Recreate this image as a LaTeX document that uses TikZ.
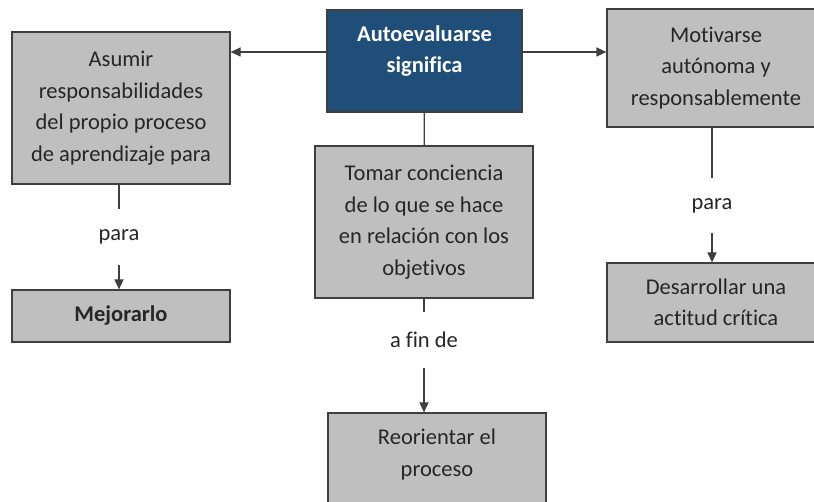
\documentclass[tikz,border=0pt]{standalone}
\usepackage{fontspec}
\setmainfont{Carlito}[Ligatures=NoCommon]
\usepackage{xcolor}
\usepackage{tikz}
\usetikzlibrary{arrows.meta,calc}

\definecolor{boxgray}{HTML}{BFBFBF}
\definecolor{boxline}{HTML}{3F3F3F}
\definecolor{navy}{HTML}{1F4E79}
\definecolor{inkgray}{HTML}{262626}

\begin{document}
\begin{tikzpicture}[x=1pt,y=-1pt,
  every node/.style={font=\fontsize{22.5}{31.5}\selectfont,text=inkgray},
  box/.style={draw=boxline,fill=boxgray,line width=1.2pt,rectangle,align=center,minimum width=218pt,inner sep=0pt},
  headbox/.style={box,fill=navy,draw=boxline,text=white,font=\fontsize{22.5}{31.5}\selectfont\bfseries,minimum width=195pt},
  link/.style={minimum height=54pt,inner sep=0pt},
  >={Triangle[length=10pt,width=9pt]},
  line width=1.2pt,draw=boxline]
\useasboundingbox (0,0) rectangle (814,502);
% Autoevaluarse
\node[headbox,minimum height=102pt] (auto) at (424.5,61) {Autoevaluarse\\significa\\[-8pt]\mbox{}};
\node[box,minimum height=152pt] (asumir) at (121,108) {Asumir\\responsabilidades\\del propio proceso\\de aprendizaje para};
\node[box,minimum height=118pt] (motivarse) at (716,68) {Motivarse\\autónoma y\\responsablemente};
\node[box,minimum height=152pt] (tomar) at (424,222) {Tomar conciencia\\de lo que se hace\\en relación con los\\objetivos};
\node[box,minimum height=52pt,font=\fontsize{22.5}{31.5}\selectfont\bfseries] (mejorarlo) at (121,316) {Mejorarlo};
\node[box,minimum height=79pt] (desarrollar) at (716,302.5) {Desarrollar una\\actitud crítica};
\node[box,minimum height=100pt] (reorientar) at (437,463) {Reorientar el\\proceso\\[-11pt]\mbox{}};

\node[link] (para1) at (119,237) {para};
\node[link] (para2) at (712,205.5) {para};
\node[link] (afinde) at (424,340) {a fin de};

\draw[->] ([yshift=9pt]auto.west) -- ([yshift=9pt]auto.west -| asumir.east);
\draw[->] ([yshift=9pt]auto.east) -- ([yshift=9pt]auto.east -| motivarse.west);
\draw (auto) -- (tomar);
\draw (asumir.south -| para1) -- (para1);
\draw[->] (para1) -- (mejorarlo.north -| para1);
\draw (motivarse.south -| para2) -- (para2);
\draw[->] (para2) -- (desarrollar.north -| para2);
\draw (tomar.south -| afinde) -- (afinde);
\draw[->] (afinde) -- (reorientar.north -| afinde);
\end{tikzpicture}
\end{document}
